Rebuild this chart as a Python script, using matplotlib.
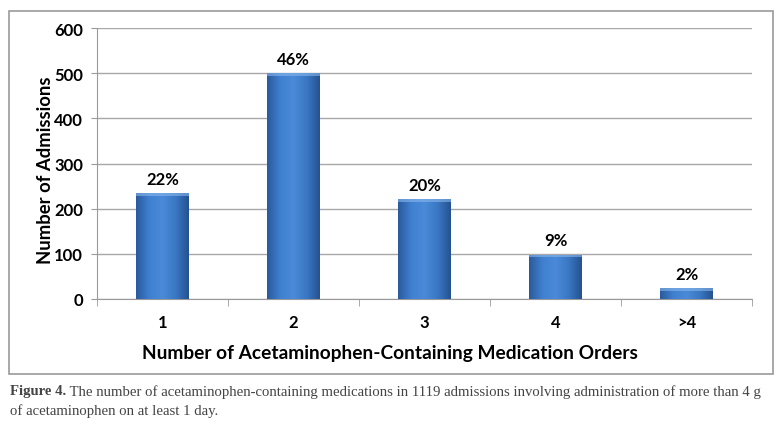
import numpy as np
import matplotlib.pyplot as plt
from matplotlib.patches import Rectangle
from matplotlib.colors import LinearSegmentedColormap

categories = ['1', '2', '3', '4', '>4']
admissions = [234, 500, 221, 98, 24]
pct_labels = ['22%', '46%', '20%', '9%', '2%']
yticks = [0, 100, 200, 300, 400, 500, 600]

plt.rcParams['font.family'] = ['Lato', 'DejaVu Sans']

fig = plt.figure(figsize=(7.82, 4.27), dpi=100)
ax = fig.add_axes([97 / 782, 1 - 300 / 427, (752 - 97) / 782, (300 - 29) / 427])

# frame around the chart area
fig.patches.append(Rectangle((9 / 782, 1 - 375 / 427), (773 - 9) / 782, (375 - 12) / 427,
                             transform=fig.transFigure, fill=False, edgecolor='#9a9a9a', lw=1.2))

bar_cmap = LinearSegmentedColormap.from_list(
    'bar', ['#2a5a9c', '#3f80d0', '#4a8ad8', '#3a78c4', '#25528f'])
x = np.arange(len(categories))
width = 0.4
bars = ax.bar(x, admissions, width=width, color='#3a78c4', zorder=2)
grad = np.linspace(0, 1, 200).reshape(1, -1)
for b in bars:
    im = ax.imshow(grad, cmap=bar_cmap, aspect='auto', zorder=3,
                   extent=[b.get_x(), b.get_x() + b.get_width(), 0, b.get_height()])
    im.set_clip_path(b)
    # light bevel at the top
    ax.add_patch(Rectangle((b.get_x(), b.get_height() - 6), b.get_width(), 6,
                           color='#8ab8ee', alpha=0.6, zorder=4, lw=0))

for xi, v, lab in zip(x, admissions, pct_labels):
    ax.text(xi, v + 14, lab, ha='center', va='bottom', fontsize=12, fontweight='bold')

ax.set_xlim(-0.5, len(categories) - 0.5)
ax.set_ylim(0, 600)
ax.set_yticks(yticks)
ax.set_yticklabels([str(t) for t in yticks], fontsize=12, fontweight='bold')
ax.set_xticks(x)
ax.set_xticklabels(categories, fontsize=12, fontweight='bold')
ax.set_xticks(np.arange(len(categories) + 1) - 0.5, minor=True)
ax.tick_params(axis='x', which='major', length=0, pad=11)
ax.tick_params(axis='x', which='minor', length=5, color='#9a9a9a')
ax.tick_params(axis='y', length=4, color='#9a9a9a', pad=6)
ax.yaxis.grid(True, color='#a8a8a8', lw=1)
ax.set_axisbelow(True)
for s in ['top', 'right']:
    ax.spines[s].set_visible(False)
for s in ['left', 'bottom']:
    ax.spines[s].set_color('#9a9a9a')

ax.set_ylabel('Number of Admissions', fontsize=13.3, fontweight='bold')
ax.yaxis.set_label_coords(-0.066, 0.48)
ax.set_xlabel('Number of Acetaminophen-Containing Medication Orders',
              fontsize=13.8, fontweight='bold', labelpad=10, x=0.447)

cap_kw = dict(fontsize=10.6, color='#444444', family='Liberation Serif')
t1 = fig.text(10 / 782, 1 - 392 / 427, 'Figure 4.', va='center', fontweight='bold', **cap_kw)
ax.annotate(' The number of acetaminophen-containing medications in 1119 admissions involving administration of more than 4 g',
            xy=(1, 0.5), xycoords=t1, va='center', ha='left', annotation_clip=False, **cap_kw)
fig.text(10 / 782, 1 - 411 / 427, 'of acetaminophen on at least 1 day.', va='center', **cap_kw)

fig.savefig('out.png', dpi=100)
